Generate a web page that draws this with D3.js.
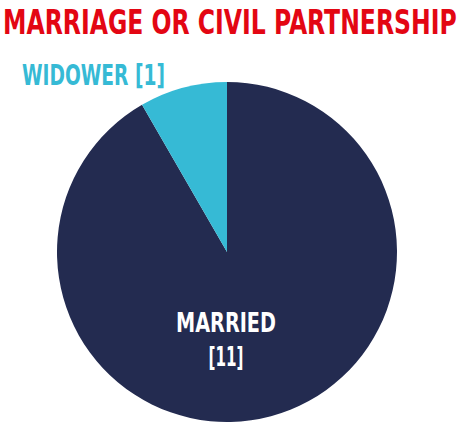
<!DOCTYPE html>
<html>
<head>
<meta charset="utf-8">
<script src="https://cdn.jsdelivr.net/npm/d3@7"></script>
<style>
  body { margin: 0; background: #fff; overflow: hidden; }
  text { font-family: "Liberation Sans Narrow", "DejaVu Sans Condensed", "Roboto", sans-serif; font-weight: bold; }
</style>
</head>
<body>
<script>
'use strict';

// chart data
const categories = ["Married", "Widower"];
const counts = [11, 1];
const colours = ["#232b50", "#36bad5"];
const title = "MARRIAGE OR CIVIL PARTNERSHIP";

(function() {
  const width = 464, height = 422;
  const cx = 227, cy = 252, radius = 170;

  let svg = d3.select('body').append('svg')
    .attr('width', width)
    .attr('height', height);

  // squeeze a text horizontally so it spans w pixels, keeping its anchor point
  function fitText(sel, x, y, w) {
    let natural = sel.node().getComputedTextLength();
    let sx = w / natural;
    sel.attr('x', 0).attr('y', 0)
      .attr('transform', `translate(${x},${y}) scale(${sx},1)`);
  }

  // title across the top
  let t = svg.append('text')
    .attr('fill', '#e30613')
    .style('font-size', '34px')
    .text(title);
  fitText(t, 3, 34, 454);

  // pie: married goes clockwise from the top, widower fills the rest
  let pie = d3.pie().sort(null).value(d => d);
  let arc = d3.arc().innerRadius(0).outerRadius(radius);

  let g = svg.append('g').attr('transform', `translate(${cx},${cy})`);
  g.selectAll('path')
    .data(pie(counts))
    .enter()
    .append('path')
    .attr('d', arc)
    .attr('fill', (d, i) => colours[i]);

  // widower label above the slice
  let w = svg.append('text')
    .attr('fill', colours[1])
    .style('font-size', '29px')
    .text(categories[1].toUpperCase() + ' [' + counts[1] + ']');
  fitText(w, 22, 85, 143);

  // married label inside the pie
  let lab = svg.append('g').attr('fill', '#fff').attr('text-anchor', 'middle');
  let m1 = lab.append('text')
    .style('font-size', '27px')
    .text(categories[0].toUpperCase());
  fitText(m1, 226, 332, 100);
  let m2 = lab.append('text')
    .style('font-size', '27px')
    .text('[' + counts[0] + ']');
  fitText(m2, 226, 366, 35);
})();
</script>
</body>
</html>
